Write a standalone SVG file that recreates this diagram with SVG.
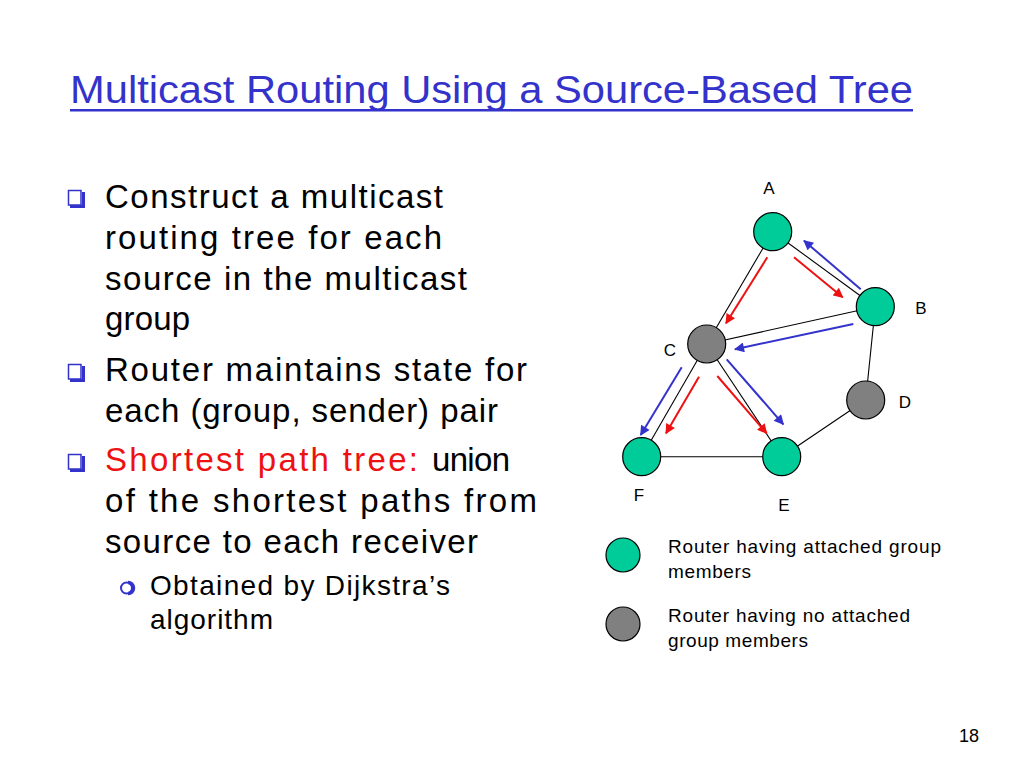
<svg xmlns="http://www.w3.org/2000/svg" width="1024" height="768" viewBox="0 0 1024 768">
<defs>
<style>
.t{font-family:"Liberation Sans","DejaVu Sans",sans-serif;fill:#000}
.title{font-size:38px;fill:#3333cc}
.b{font-size:33px}
.s{font-size:28px}
.lbl{font-size:17px}
.leg{font-size:19px}
.edge{stroke:#000;stroke-width:1.1;fill:none}
.red{stroke:#ee1111;stroke-width:2;fill:none;marker-end:url(#ar)}
.blue{stroke:#3333cc;stroke-width:2;fill:none;marker-end:url(#ab)}
.g{fill:#00cc99;stroke:#000;stroke-width:1.2}
.k{fill:#808080;stroke:#000;stroke-width:1.2}
</style>
<marker id="ar" viewBox="0 0 10 10" refX="9" refY="5" markerWidth="5.5" markerHeight="5" orient="auto" markerUnits="strokeWidth"><path d="M0,0 L10,5 L0,10 z" fill="#ee1111"/></marker>
<marker id="ab" viewBox="0 0 10 10" refX="9" refY="5" markerWidth="5.5" markerHeight="5" orient="auto" markerUnits="strokeWidth"><path d="M0,0 L10,5 L0,10 z" fill="#3333cc"/></marker>
<g id="sq"><rect x="68.5" y="190.5" width="12.5" height="14.5" fill="#fff" stroke="#3333cc" stroke-width="1.5"/><path d="M70,206.5 L83.5,206.5 L83.5,192" fill="none" stroke="#3333cc" stroke-width="3"/></g>
</defs>
<rect width="1024" height="768" fill="#fff"/>
<g id="title">
<text class="t title" x="70" y="103" textLength="843" lengthAdjust="spacingAndGlyphs">Multicast Routing Using a Source-Based Tree</text>
<rect x="70" y="109" width="843" height="2.5" fill="#3333cc"/>
</g>
<g id="bullets">
<use href="#sq"/>
<use href="#sq" y="174"/>
<use href="#sq" y="264"/>
<text class="t b" x="105" y="208" textLength="338">Construct a multicast</text>
<text class="t b" x="105" y="249" textLength="337">routing tree for each</text>
<text class="t b" x="105" y="290" textLength="362">source in the multicast</text>
<text class="t b" x="105" y="330" textLength="85">group</text>
<text class="t b" x="105" y="381" textLength="422">Router maintains state for</text>
<text class="t b" x="105" y="422" textLength="393">each (group, sender) pair</text>
<text class="t b" x="105" y="471"><tspan fill="#ee1111" textLength="313">Shortest path tree:</tspan><tspan x="432" textLength="78">union</tspan></text>
<text class="t b" x="105" y="512" textLength="432">of the shortest paths from</text>
<text class="t b" x="105" y="553" textLength="373">source to each receiver</text>
<circle cx="126.5" cy="588" r="5.5" fill="none" stroke="#3333cc" stroke-width="2"/>
<path d="M128,582.5 A5.5,5.5 0 0 1 128,593.5" fill="none" stroke="#3333cc" stroke-width="3.5"/>
<text class="t s" x="150" y="595" textLength="300">Obtained by Dijkstra’s</text>
<text class="t s" x="150" y="629" textLength="123">algorithm</text>
</g>
<g id="connectors">
<line class="edge" x1="772.7" y1="231.7" x2="706.7" y2="344"/>
<line class="edge" x1="772.7" y1="231.7" x2="875.3" y2="306.7"/>
<line class="edge" x1="875.3" y1="306.7" x2="706.7" y2="344"/>
<line class="edge" x1="875.3" y1="306.7" x2="865.7" y2="400"/>
<line class="edge" x1="706.7" y1="344" x2="641.7" y2="456.7"/>
<line class="edge" x1="706.7" y1="344" x2="781.7" y2="456.7"/>
<line class="edge" x1="865.7" y1="400" x2="781.7" y2="456.7"/>
<line class="edge" x1="641.7" y1="456.7" x2="781.7" y2="456.7"/>
<line class="red" x1="767.3" y1="257.3" x2="726" y2="323.3"/>
<line class="red" x1="794" y1="257.3" x2="842.7" y2="297.3"/>
<line class="blue" x1="860.7" y1="289.3" x2="804" y2="240.7"/>
<line class="blue" x1="853.3" y1="324" x2="735" y2="349.3"/>
<line class="blue" x1="681.7" y1="367.3" x2="640.7" y2="435"/>
<line class="red" x1="699" y1="376.7" x2="666" y2="433.3"/>
<line class="red" x1="717.3" y1="376" x2="766.7" y2="433.3"/>
<line class="blue" x1="726.7" y1="359.3" x2="783.3" y2="424.3"/>
</g>
<g id="node-A"><circle class="g" cx="772.7" cy="231.7" r="19"/><text class="t lbl" x="769" y="194" text-anchor="middle">A</text></g>
<g id="node-B"><circle class="g" cx="875.3" cy="306.7" r="19"/><text class="t lbl" x="921" y="314" text-anchor="middle">B</text></g>
<g id="node-C"><circle class="k" cx="706.7" cy="344" r="19"/><text class="t lbl" x="670" y="356" text-anchor="middle">C</text></g>
<g id="node-D"><circle class="k" cx="865.7" cy="400" r="19"/><text class="t lbl" x="905" y="408" text-anchor="middle">D</text></g>
<g id="node-E"><circle class="g" cx="781.7" cy="456.7" r="19"/><text class="t lbl" x="784" y="511" text-anchor="middle">E</text></g>
<g id="node-F"><circle class="g" cx="641.7" cy="456.7" r="19"/><text class="t lbl" x="639" y="501" text-anchor="middle">F</text></g>
<g id="legend">
<circle class="g" cx="623" cy="555" r="17"/>
<circle class="k" cx="623" cy="624" r="17"/>
<text class="t leg" x="668" y="553" textLength="273">Router having attached group</text>
<text class="t leg" x="668" y="578" textLength="83">members</text>
<text class="t leg" x="668" y="622" textLength="242">Router having no attached</text>
<text class="t leg" x="668" y="647" textLength="140">group members</text>
</g>
<text class="t" x="979" y="742" font-size="18" text-anchor="end">18</text>
</svg>
